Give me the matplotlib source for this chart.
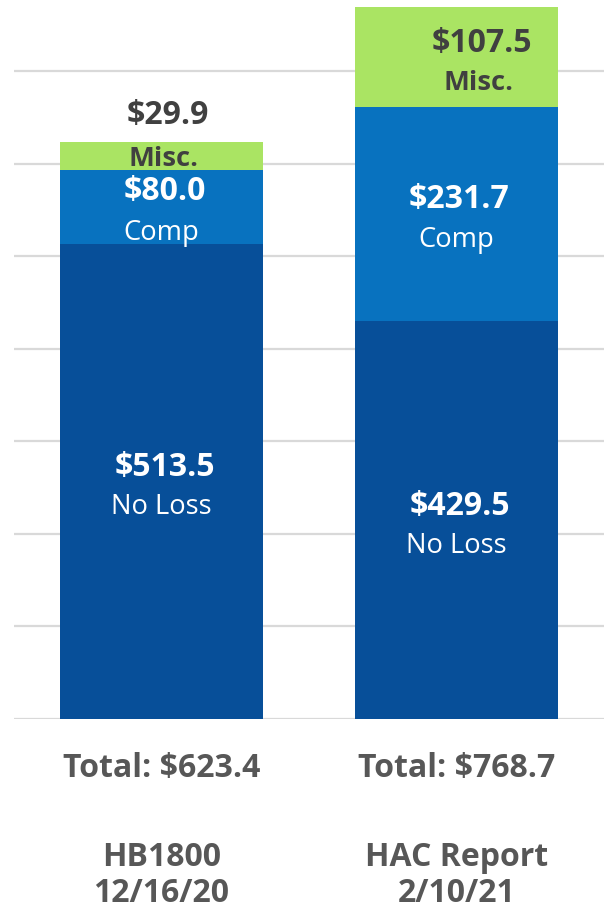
import matplotlib
matplotlib.use("Agg")
import matplotlib.pyplot as plt

plt.rcParams['font.family'] = ['Open Sans', 'DejaVu Sans']

categories = ["HB1800\n12/16/20", "HAC Report\n2/10/21"]
no_loss = [513.5, 429.5]
comp = [80.0, 231.7]
misc = [29.9, 107.5]

c_noloss = '#074f99'
c_comp = '#0872bf'
c_misc = '#aae463'
txt_dark = '#404040'
txt_gray = '#575757'

fig = plt.figure(figsize=(6.04, 9.10), dpi=100)
ax = fig.add_axes([14/604, 1 - 719/910, 590/604, 719/910])
ax.set_xlim(-0.5, 1.5)
ax.set_ylim(0, 776.7)
for s in ax.spines.values():
    s.set_visible(False)
ax.set_xticks([])
ax.set_yticks([])
for g in range(0, 800, 100):
    ax.axhline(g, color='#d9d9d9', lw=1.6, zorder=0)

x = [0, 1]
w = 0.689
bottoms2 = [a + b for a, b in zip(no_loss, comp)]
ax.bar(x, no_loss, width=w, color=c_noloss, zorder=2)
ax.bar(x, comp, bottom=no_loss, width=w, color=c_comp, zorder=2)
ax.bar(x, misc, bottom=bottoms2, width=w, color=c_misc, zorder=2)

fs_val = 23
fs_name = 19.7
dx = 0.01
for i in x:
    nl_c = no_loss[i] / 2
    ax.text(i + dx, nl_c + 15, f"${no_loss[i]:.1f}", ha='center', va='center', color='white',
            fontsize=fs_val, fontweight='bold', zorder=3)
    ax.text(i, nl_c - 28, "No Loss", ha='center', va='center', color='white',
            fontsize=fs_name, zorder=3)
    c_c = no_loss[i] + comp[i] / 2
    ax.text(i + dx, c_c + 16, f"${comp[i]:.1f}", ha='center', va='center', color='white',
            fontsize=fs_val, fontweight='bold', zorder=3)
    ax.text(i, c_c - 28, "Comp", ha='center', va='center', color='white',
            fontsize=fs_name, zorder=3)
    total = no_loss[i] + comp[i] + misc[i]
    ax.text(i, -54, f"Total: ${total:.1f}", ha='center', va='center', color=txt_gray,
            fontsize=fs_val, fontweight='bold', clip_on=False)
    ax.text(i, -169, categories[i], ha='center', va='center', color=txt_gray,
            fontsize=fs_val, fontweight='bold', linespacing=1.15, clip_on=False)

# Misc labels
top0 = bottoms2[0] + misc[0]
ax.text(0.02, top0 + 29, f"${misc[0]:.1f}", ha='center', va='center', color=txt_dark,
        fontsize=fs_val, fontweight='bold', zorder=3)
ax.text(0.008, bottoms2[0] + misc[0] / 2 - 4, "Misc.", ha='center', va='center', color=txt_dark,
        fontsize=fs_name, fontweight='bold', zorder=3)
ax.text(1.085, bottoms2[1] + misc[1] / 2 + 15, f"${misc[1]:.1f}", ha='center', va='center',
        color=txt_dark, fontsize=fs_val, fontweight='bold', zorder=3)
ax.text(1.075, bottoms2[1] + misc[1] / 2 - 28, "Misc.", ha='center', va='center',
        color=txt_dark, fontsize=fs_name, fontweight='bold', zorder=3)

fig.savefig("out.png", dpi=100)
